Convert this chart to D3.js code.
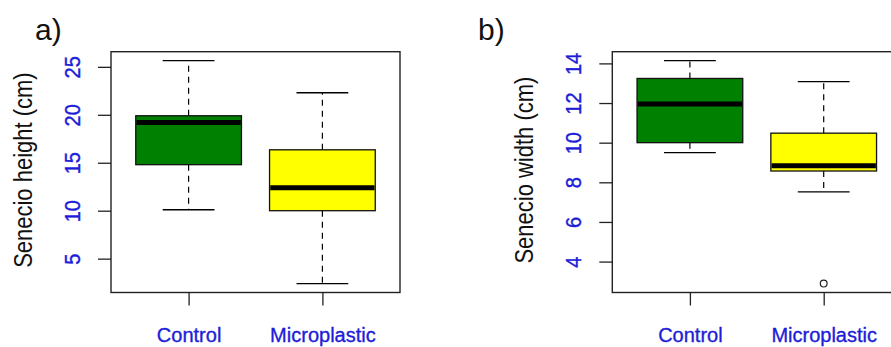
<!DOCTYPE html>
<html>
<head>
<meta charset="utf-8">
<script src="https://cdn.jsdelivr.net/npm/d3@7.9.0/dist/d3.min.js"></script>
<style>
  body { margin: 0; background: #fff; }
  svg { display: block; }
  text { font-family: "Liberation Sans", Arial, sans-serif; }
</style>
</head>
<body>
<svg id="chart" width="891" height="347"></svg>
<script>
const groups = ["Control", "Microplastic"];
const fills = ["#008000", "#ffff00"];

// five-number summaries: [lower whisker, Q1, median, Q3, upper whisker]
const heightControl = [10.1, 14.8, 19.2, 19.9, 25.65];
const heightMicro   = [2.4, 10.0, 12.4, 16.35, 22.3];
const heightOutliers = [[], []];
const heightTicks = [5, 10, 15, 20, 25];

const widthControl = [9.5, 10.0, 11.95, 13.24, 14.14];
const widthMicro   = [7.52, 8.57, 8.83, 10.48, 13.08];
const widthOutliers = [[], [2.89]];
const widthTicks = [4, 6, 8, 10, 12, 14];

const BLUE = "#1d1dd8";
const svg = d3.select("#chart");

function drawPanel({ left, tag, tagX, yLabel, stats, outliers, ticks }) {
  const W = 289, top = 51.7, bottom = 292.5;

  const all = stats.flat().concat(outliers.flat());
  const [lo, hi] = d3.extent(all);
  const pad = (hi - lo) * 0.04;
  const y = d3.scaleLinear().domain([lo - pad, hi + pad]).range([bottom, top]);
  const x = d3.scalePoint().domain(groups).range([left, left + W]).padding(0.58);
  const step = x.step();
  const boxW = step * 0.79;
  const capW = boxW * 0.49;

  const g = svg.append("g");

  // boxes
  groups.forEach((name, i) => {
    const [wLo, q1, med, q3, wHi] = stats[i];
    const cx = x(name);
    const bg = g.append("g");

    bg.append("line")
      .attr("x1", cx).attr("x2", cx)
      .attr("y1", y(q3)).attr("y2", y(wHi))
      .attr("stroke", "#000").attr("stroke-width", 1.2)
      .attr("stroke-dasharray", "6,5");
    bg.append("line")
      .attr("x1", cx).attr("x2", cx)
      .attr("y1", y(q1)).attr("y2", y(wLo))
      .attr("stroke", "#000").attr("stroke-width", 1.2)
      .attr("stroke-dasharray", "6,5");

    [wLo, wHi].forEach(v => {
      bg.append("line")
        .attr("x1", cx - capW / 2).attr("x2", cx + capW / 2)
        .attr("y1", y(v)).attr("y2", y(v))
        .attr("stroke", "#000").attr("stroke-width", 1.3);
    });

    bg.append("rect")
      .attr("x", cx - boxW / 2).attr("width", boxW)
      .attr("y", y(q3)).attr("height", y(q1) - y(q3))
      .attr("fill", fills[i])
      .attr("stroke", "#111").attr("stroke-width", 1.3);

    bg.append("line")
      .attr("x1", cx - boxW / 2 + 0.7).attr("x2", cx + boxW / 2 - 0.7)
      .attr("y1", y(med)).attr("y2", y(med))
      .attr("stroke", "#000").attr("stroke-width", 5);

    bg.selectAll("circle.out")
      .data(outliers[i]).join("circle")
      .attr("class", "out")
      .attr("cx", cx).attr("cy", d => y(d))
      .attr("r", 3.4)
      .attr("fill", "none").attr("stroke", "#222").attr("stroke-width", 1.2);
  });

  // frame
  g.append("rect")
    .attr("x", left).attr("y", top)
    .attr("width", W).attr("height", bottom - top)
    .attr("fill", "none").attr("stroke", "#222").attr("stroke-width", 1.4);

  // y axis
  const yAxis = g.append("g")
    .attr("transform", `translate(${left},0)`)
    .call(d3.axisLeft(y).tickValues(ticks).tickSize(13).tickFormat(d3.format("d")));
  yAxis.select(".domain").remove();
  yAxis.selectAll(".tick line").attr("stroke", "#222").attr("stroke-width", 1.3);
  yAxis.selectAll(".tick text")
    .attr("x", null).attr("dy", null)
    .attr("fill", BLUE)
    .attr("stroke", BLUE).attr("stroke-width", 0.35)
    .attr("font-size", 20)
    .attr("text-anchor", "middle")
    .attr("dominant-baseline", "central")
    .attr("transform", "translate(-38.5,0) rotate(-90) scale(1,1.14)");

  // x axis
  const xAxis = g.append("g")
    .attr("transform", `translate(0,${bottom})`)
    .call(d3.axisBottom(x).tickSize(13));
  xAxis.select(".domain").remove();
  xAxis.selectAll(".tick line").attr("stroke", "#222").attr("stroke-width", 1.3);
  xAxis.selectAll(".tick text")
    .attr("y", null).attr("dy", null)
    .attr("transform", "translate(0,49.5)")
    .attr("fill", BLUE)
    .attr("stroke", BLUE).attr("stroke-width", 0.35)
    .attr("font-size", 20);

  // y label
  g.append("text")
    .attr("transform", `translate(${left - 88},${(top + bottom) / 2 - 2}) rotate(-90) scale(1,1.15)`)
    .attr("text-anchor", "middle")
    .attr("dominant-baseline", "central")
    .attr("font-size", 22)
    .attr("fill", "#111")
    .text(yLabel);

  // panel tag
  svg.append("text")
    .attr("x", tagX).attr("y", 40)
    .attr("font-family", "'Open Sans', 'Noto Sans', sans-serif")
    .attr("font-size", 30)
    .attr("fill", "#111")
    .text(tag);
}

drawPanel({
  left: 111, tag: "a)", tagX: 35,
  yLabel: "Senecio height (cm)",
  stats: [heightControl, heightMicro],
  outliers: heightOutliers,
  ticks: heightTicks
});

drawPanel({
  left: 612.3, tag: "b)", tagX: 478,
  yLabel: "Senecio width (cm)",
  stats: [widthControl, widthMicro],
  outliers: widthOutliers,
  ticks: widthTicks
});
</script>
</body>
</html>
